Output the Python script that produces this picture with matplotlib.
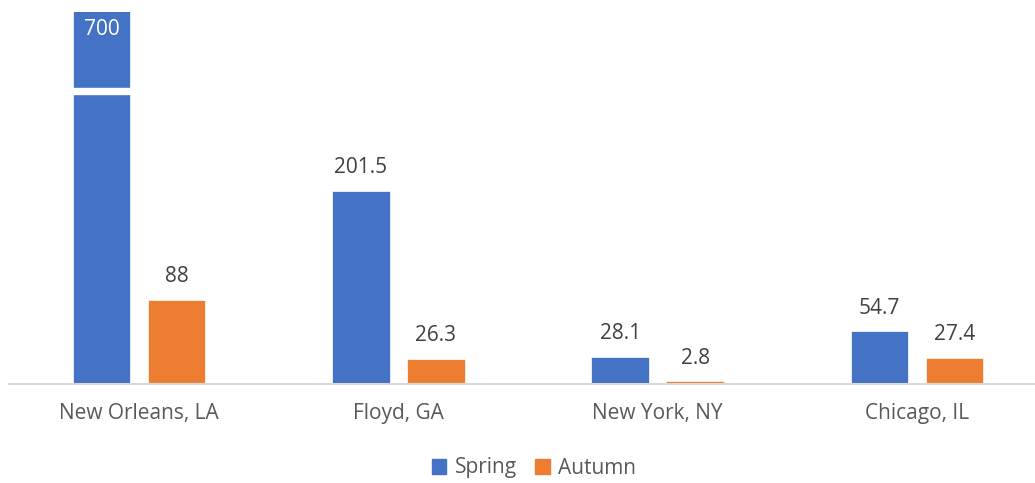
import matplotlib
matplotlib.use('Agg')
import matplotlib.pyplot as plt
import numpy as np
from matplotlib.patches import Patch, Rectangle

plt.rcParams['font.family'] = ['Open Sans', 'DejaVu Sans']

cities = ['New Orleans, LA', 'Floyd, GA', 'New York, NY', 'Chicago, IL']
spring = [700, 201.5, 28.1, 54.7]
autumn = [88, 26.3, 2.8, 27.4]
spring_labels = ['700', '201.5', '28.1', '54.7']
autumn_labels = ['88', '26.3', '2.8', '27.4']

blue = '#4472C4'
orange = '#ED7D31'
label_col = '#404040'
axis_col = '#595959'

y_top = 387.5          # visible top of the value axis, taller bars get cut
break_lo, break_hi = 302, 308   # white gap drawn across the cut bar

fig = plt.figure(figsize=(10.35, 4.83), dpi=100)
ax = fig.add_axes([9.3 / 1035, 99 / 483, 1037.4 / 1035, 372 / 483])

x = np.arange(len(cities))
off = 0.1446
w = 0.222
b1 = ax.bar(x - off, spring, w, color=blue, edgecolor='white', linewidth=0.5, zorder=2)
b2 = ax.bar(x + off, autumn, w, color=orange, edgecolor='white', linewidth=0.5, zorder=2)

ax.set_xlim(-0.5, len(cities) - 0.5)
ax.set_ylim(0, y_top)

# break mark on bars taller than the axis
for i, v in enumerate(spring):
    if v > y_top:
        ax.add_patch(Rectangle((x[i] - off - w / 2 - 0.01, break_lo), w + 0.02,
                               break_hi - break_lo, color='white', zorder=3))

for i in range(len(cities)):
    if spring[i] > y_top:
        ax.annotate(spring_labels[i], (x[i] - off, y_top), xytext=(0, -16.6),
                    textcoords='offset points', ha='center', va='baseline',
                    fontsize=15, color='white', zorder=4)
    else:
        ax.annotate(spring_labels[i], (x[i] - off, spring[i]), xytext=(0, 12.7),
                    textcoords='offset points', ha='center', va='baseline',
                    fontsize=15, color=label_col)
    ax.annotate(autumn_labels[i], (x[i] + off, autumn[i]), xytext=(0, 12.7),
                textcoords='offset points', ha='center', va='baseline',
                fontsize=15, color=label_col)

for s in ['top', 'right', 'left']:
    ax.spines[s].set_visible(False)
ax.spines['bottom'].set_color('#D9D9D9')
ax.spines['bottom'].set_linewidth(1.5)
ax.set_yticks([])
ax.set_xticks(x)
ax.set_xticklabels(cities, fontsize=15, color=axis_col)
ax.tick_params(axis='x', length=0, pad=14)

handles = [Patch(color=blue, label='Spring'), Patch(color=orange, label='Autumn')]
fig.legend(handles=handles, loc='center', bbox_to_anchor=(534 / 1035, 15 / 483),
           ncol=2, frameon=False, fontsize=15, labelcolor=axis_col,
           handlelength=0.7, handleheight=0.7, handletextpad=0.4, columnspacing=0.9)

fig.savefig('out.png', dpi=100)
